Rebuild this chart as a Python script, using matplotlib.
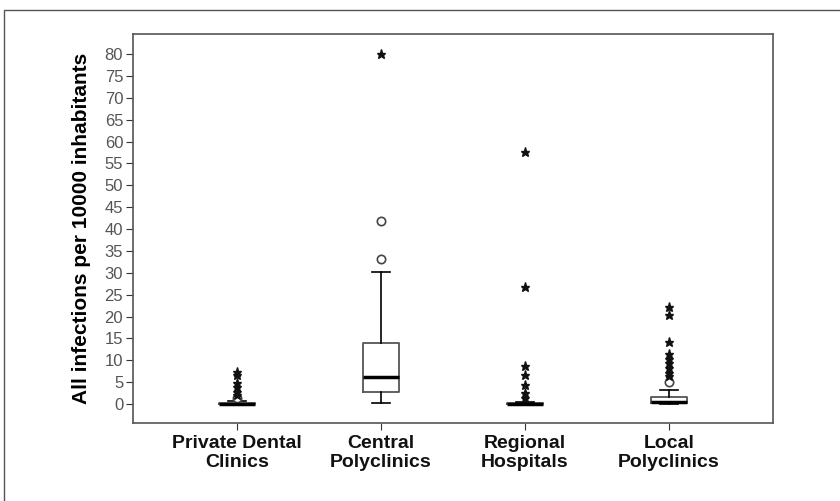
import matplotlib.pyplot as plt
from matplotlib.patches import Rectangle

plt.rcParams['font.family'] = ['Liberation Sans', 'DejaVu Sans']

categories = ['Private Dental\nClinics', 'Central\nPolyclinics', 'Regional\nHospitals', 'Local\nPolyclinics']

# box statistics
q1 = [0.0, 2.7, 0.0, 0.2]
medians = [0.1, 6.2, 0.05, 0.4]
q3 = [0.3, 13.9, 0.2, 1.6]
whisker_low = [0.0, 0.2, 0.0, 0.0]
whisker_high = [0.7, 30.1, 0.5, 3.2]

# outliers (circles) and extremes (stars)
outliers = [[1.3], [33.1, 41.8], [], [5.1]]
extremes = [
    [2.0, 2.7, 3.9, 4.8, 6.6, 7.4],
    [80.0],
    [1.4, 2.5, 4.3, 6.6, 8.7, 26.7, 57.6],
    [6.4, 7.1, 8.2, 9.3, 10.3, 11.5, 14.2, 20.3, 22.2],
]

positions = [1, 2, 3, 4]

fig = plt.figure(figsize=(8.4, 5.01), dpi=100)
ax = fig.add_axes([0.1583, 0.1557, 0.7619, 0.7764])

stats = []
for i in range(len(categories)):
    stats.append({
        'q1': q1[i], 'med': medians[i], 'q3': q3[i],
        'whislo': whisker_low[i], 'whishi': whisker_high[i], 'fliers': [],
    })

ax.bxp(stats, positions=positions, widths=0.25, showfliers=False,
       boxprops=dict(color='#555555', linewidth=1.3),
       medianprops=dict(color='black', linewidth=2.5),
       whiskerprops=dict(color='black', linewidth=1.2),
       capprops=dict(color='black', linewidth=1.2),
       capwidths=0.12)

for p, vals in zip(positions, outliers):
    ax.plot([p] * len(vals), vals, 'o', markerfacecolor='white',
            markeredgecolor='#444444', markersize=6, markeredgewidth=1.2, linestyle='none')
for p, vals in zip(positions, extremes):
    ax.plot([p] * len(vals), vals, '*', color='#111111', markersize=6.5, linestyle='none')

ax.set_xlim(0.278, 4.722)
ax.set_ylim(-4.34, 84.57)
ax.set_yticks(range(0, 85, 5))
ax.set_xticks(positions)
ax.set_xticklabels(categories, fontsize=14, fontweight='bold', color='#111111', linespacing=1.1)
ax.tick_params(axis='y', labelsize=12, labelcolor='#555555', length=5, color='#333333', pad=2)
ax.tick_params(axis='x', length=5, color='#333333', pad=4)
ax.set_ylabel('All infections per 10000 inhabitants', fontsize=15, fontweight='bold', labelpad=10)

for s in ax.spines.values():
    s.set_color('#555555')
    s.set_linewidth(1.2)

fig.patches.append(Rectangle((0.005, -0.05), 1.1, 1.03, transform=fig.transFigure,
                             fill=False, edgecolor='#555555', linewidth=1.0))

fig.savefig('out.png', dpi=100)
